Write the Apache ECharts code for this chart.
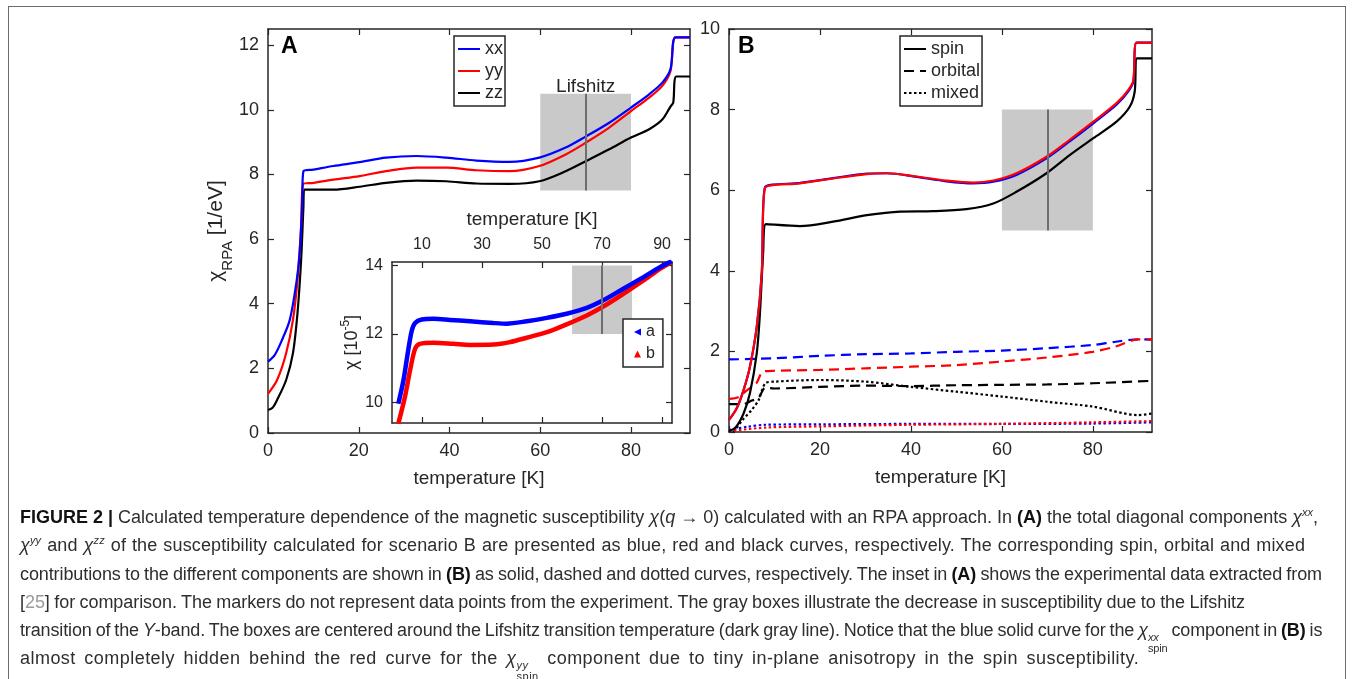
<!DOCTYPE html>
<html>
<head>
<meta charset="utf-8">
<title>FIGURE 2</title>
<script src="https://cdn.jsdelivr.net/npm/echarts@6.0.0/dist/echarts.min.js"></script>
<style>
  html, body { margin: 0; padding: 0; background: #fff; }
  #wrap { position: relative; width: 1354px; height: 679px; overflow: hidden; }
  #chart { position: absolute; left: 0; top: 0; width: 1354px; height: 679px; }
  #frame { position: absolute; left: 8px; top: 6px; width: 1336px; height: 700px; border: 1.5px solid #6b6b6b; border-bottom: none; }
  .cap { position: absolute; left: 20px; white-space: nowrap; font-family: 'Liberation Sans', Arial, sans-serif; font-size: 18px; line-height: 20px; color: #2e2e2e; }
  .cap b { color: #111; }
  .cap sup { font-size: 11px; line-height: 0; font-style: italic; }
  .cap .ref { color: #9a9a9a; }
  .ss { display: inline-flex; flex-direction: column; vertical-align: -5px; line-height: 11px; font-size: 11px; }
  .ss i { font-style: italic; }
</style>
</head>
<body>
<div id="wrap">
  <div id="chart"></div>
  <div id="frame"></div>
  <div class="cap" style="top:507px" data-r="1318"><b>FIGURE 2 |</b> Calculated temperature dependence of the magnetic susceptibility <i>χ</i>(<i>q</i> → 0) calculated with an RPA approach. In <b>(A)</b> the total diagonal components <i>χ</i><sup>xx</sup>,</div>
  <div class="cap" style="top:535px" data-r="1305"><i>χ</i><sup>yy</sup> and <i>χ</i><sup>zz</sup> of the susceptibility calculated for scenario B are presented as blue, red and black curves, respectively. The corresponding spin, orbital and mixed</div>
  <div class="cap" style="top:564px" data-r="1322">contributions to the different components are shown in <b>(B)</b> as solid, dashed and dotted curves, respectively. The inset in <b>(A)</b> shows the experimental data extracted from</div>
  <div class="cap" style="top:592px" data-r="1245">[<span class="ref">25</span>] for comparison. The markers do not represent data points from the experiment. The gray boxes illustrate the decrease in susceptibility due to the Lifshitz</div>
  <div class="cap" style="top:620px" data-r="1322">transition of the <i>Y</i>-band. The boxes are centered around the Lifshitz transition temperature (dark gray line). Notice that the blue solid curve for the <i>χ</i><span class="ss"><i>xx</i><span>spin</span></span> component in <b>(B)</b> is</div>
  <div class="cap" style="top:648px" data-r="1140">almost completely hidden behind the red curve for the <i>χ</i><span class="ss"><i>yy</i><span>spin</span></span> component due to tiny in-plane anisotropy in the spin susceptibility.</div>
</div>
<script>
  // panel A: total susceptibility, [T, chi]
  const totalXX = [[0,2.21],[1.5,2.42],[3,2.85],[4.8,3.5],[6.3,4.7],[7,5.6],[7.5,7.0],[7.8,8.1],[10,8.15],[14.4,8.26],[20.2,8.38],[26,8.52],[32.7,8.57],[39.3,8.52],[45.9,8.43],[53.2,8.39],[59.8,8.52],[65.6,8.83],[70,9.17],[75.2,9.6],[80,10.07],[84,10.48],[86.9,10.84],[88.7,11.26],[89.8,12.24],[93,12.24]];
  const totalYY = [[0,1.21],[2,1.64],[4,2.47],[5.5,3.5],[6.5,4.74],[7.3,6.4],[7.8,7.71],[10,7.74],[14.4,7.84],[20.2,7.95],[26,8.1],[32.7,8.21],[39.3,8.21],[45.9,8.13],[53.2,8.1],[59.8,8.26],[65.6,8.62],[70,8.98],[75.2,9.45],[80,9.96],[84,10.38],[86.9,10.74],[88.7,11.2],[89.8,12.24],[93,12.24]];
  const totalZZ = [[0,0.71],[1,0.78],[2,1.02],[4,1.64],[5.5,2.47],[6.5,3.71],[7.3,5.36],[7.8,6.97],[8,7.53],[14.4,7.53],[20.2,7.62],[26,7.74],[32.7,7.81],[39.3,7.79],[45.9,7.72],[53.2,7.71],[59.8,7.79],[65.6,8.1],[70,8.41],[75.2,8.78],[80,9.14],[84,9.4],[86.9,9.7],[88.7,10.1],[89.3,10.22],[90,11.03],[93,11.03]];

  // panel B: spin / orbital / mixed parts
  const spinXX = [[0,0.3],[1.7,0.59],[3.2,1.04],[4.6,1.62],[6.1,2.61],[7.2,3.94],[7.9,6.07],[15.6,6.18],[22.9,6.3],[30.3,6.41],[34.7,6.42],[41.2,6.33],[47.8,6.22],[53.7,6.17],[58.1,6.21],[63.2,6.38],[69.8,6.79],[74.9,7.21],[80.1,7.66],[85.2,8.12],[87.8,8.45],[88.9,8.7],[89.6,9.66],[93,9.66]];
  const spinYY = [[0,0.3],[1.7,0.59],[3.2,1.04],[4.6,1.62],[6.1,2.61],[7.2,3.94],[7.9,6.05],[15.6,6.17],[22.9,6.29],[30.3,6.4],[34.7,6.42],[41.2,6.34],[47.8,6.24],[53.7,6.19],[58.1,6.24],[63.2,6.42],[69.8,6.83],[74.9,7.25],[80.1,7.7],[85.2,8.16],[87.8,8.49],[88.9,8.73],[89.6,9.66],[93,9.66]];
  const spinZZ = [[0,0.02],[1.5,0.12],[3.2,0.46],[4.6,0.96],[6.1,1.95],[6.8,2.94],[7.5,4.43],[8.1,5.16],[15.6,5.11],[22.9,5.22],[30.3,5.38],[37.6,5.47],[44.9,5.48],[52.2,5.53],[58.1,5.67],[63.2,5.96],[69.8,6.42],[74.9,6.87],[80.1,7.29],[85.2,7.7],[88.1,8.07],[89.2,8.45],[89.7,9.27],[93,9.27]];
  const orbXX = [[0,1.8],[10,1.83],[20,1.89],[30,1.93],[40,1.95],[50,1.99],[60,2.02],[70,2.08],[80,2.16],[85,2.24],[90,2.3],[93,2.29]];
  const orbYY = [[0,0.82],[2,0.86],[4,1.04],[6,1.21],[7.5,1.5],[10,1.52],[20,1.54],[30,1.58],[40,1.62],[50,1.66],[60,1.75],[70,1.85],[80,1.99],[85,2.12],[90,2.3],[93,2.3]];
  const orbZZ = [[0,0.69],[3,0.69],[5,0.78],[6.5,0.85],[8,1.1],[10,1.08],[20,1.12],[30,1.15],[40,1.14],[50,1.16],[60,1.17],[70,1.18],[80,1.21],[93,1.27]];
  const mixXX = [[0,0.05],[4,0.13],[8,0.18],[20,0.19],[40,0.2],[60,0.2],[80,0.21],[93,0.24]];
  const mixYY = [[0,0.02],[8,0.11],[20,0.14],[40,0.18],[60,0.2],[80,0.24],[93,0.27]];
  const mixZZ = [[1,0],[3,0.3],[5,0.55],[6.5,0.79],[8,1.21],[10,1.25],[20,1.29],[30,1.25],[40,1.12],[50,1.0],[60,0.88],[70,0.75],[80,0.63],[90,0.42],[93,0.46]];

  // inset: experiment, chi in 1e-5
  const expA = [[2.1,9.96],[3.8,10.64],[5.4,11.52],[6.6,12.1],[7.7,12.32],[9.9,12.42],[13.8,12.44],[19.3,12.41],[26,12.37],[33.8,12.32],[38.2,12.3],[44.9,12.37],[51.6,12.47],[58.2,12.59],[64.9,12.76],[70.4,12.98],[77.1,13.32],[83.8,13.66],[89.3,13.95],[93.2,14.12]];
  const expB = [[2.1,9.38],[4.3,10.16],[6,10.93],[7.7,11.57],[9.3,11.71],[13.8,11.74],[20.4,11.71],[26,11.68],[33.8,11.69],[39.3,11.76],[44.9,11.89],[51.6,12.05],[58.2,12.28],[64.9,12.54],[70.4,12.8],[77.1,13.17],[83.8,13.56],[89.3,13.9],[93.2,14.1]];

  // Lifshitz boxes: [Tmin, Tmax, chiMin, chiMax], centre line temperature
  const boxA = [60, 80, 7.5, 10.5];
  const boxB = [60, 80, 5, 8];
  const boxInset = [60, 80, 12, 14];
  const lifshitzT = 70;

  // tick labels
  const tTicks = [0, 20, 40, 60, 80];
  const yTicksA = [0, 2, 4, 6, 8, 10, 12];
  const yTicksB = [0, 2, 4, 6, 8, 10];
  const insetTTicks = [10, 30, 50, 70, 90];
  const insetYTicks = [10, 12, 14];

  const FONT = 'Liberation Sans';
  const INK = '#262626';

  function frameAxis(gridIndex, position, min, max, ticks, showLabels, labelSize) {
    return {
      type: 'value', gridIndex: gridIndex, position: position, min: min, max: max,
      axisLine: { show: true, onZero: false, lineStyle: { color: INK, width: 1.5 } },
      axisTick: { show: true, inside: true, length: 6, customValues: ticks, lineStyle: { color: INK, width: 1.2 } },
      axisLabel: { show: showLabels, customValues: ticks, fontSize: labelSize, fontFamily: FONT, color: INK, margin: 9 },
      splitLine: { show: false }
    };
  }

  function curve(name, data, color, xi, yi, width, dash) {
    return {
      name: name, type: 'line', data: data, xAxisIndex: xi, yAxisIndex: yi,
      symbol: 'none', smooth: 0.3, z: 3, silent: true,
      lineStyle: { color: color, width: width, type: dash || 'solid' },
      itemStyle: { color: color }
    };
  }

  function grayBox(box, xi, yi, label) {
    return {
      type: 'line', data: [], xAxisIndex: xi, yAxisIndex: yi, z: 1, silent: true,
      markArea: {
        silent: true,
        itemStyle: { color: '#c9c9c9', opacity: 1 },
        label: label ? { show: true, position: 'top', distance: -3, formatter: label, fontSize: 19, fontFamily: FONT, color: INK } : { show: false },
        data: [[{ coord: [box[0], box[2]] }, { coord: [box[1], box[3]] }]]
      },
      markLine: {
        silent: true, symbol: ['none', 'none'],
        label: { show: false },
        lineStyle: { color: '#6e6e6e', width: 2, type: 'solid' },
        data: [[{ coord: [lifshitzT, box[2]] }, { coord: [lifshitzT, box[3]] }]]
      }
    };
  }

  const nameStyle = { fontSize: 19, fontFamily: FONT, color: INK };

  const xAxes = [
    Object.assign(frameAxis(0, 'bottom', 0, 93, tTicks, true, 18), { name: 'temperature [K]', nameLocation: 'middle', nameGap: 36, nameTextStyle: nameStyle }),
    frameAxis(0, 'top', 0, 93, tTicks, false, 18),
    Object.assign(frameAxis(1, 'bottom', 0, 93, tTicks, true, 18), { name: 'temperature [K]', nameLocation: 'middle', nameGap: 36, nameTextStyle: nameStyle }),
    frameAxis(1, 'top', 0, 93, tTicks, false, 18),
    frameAxis(2, 'bottom', 0, 93.3, insetTTicks, false, 16),
    Object.assign(frameAxis(2, 'top', 0, 93.3, insetTTicks, true, 16), { name: 'temperature [K]', nameLocation: 'middle', nameGap: 33, nameTextStyle: nameStyle })
  ];

  const yAxes = [
    Object.assign(frameAxis(0, 'left', 0, 12.5, yTicksA, true, 18), {
      name: '{c|χ}{s|RPA}{c| [1/eV]}', nameLocation: 'middle', nameGap: 23,
      nameTextStyle: { color: INK, rich: {
        c: { fontSize: 21, fontFamily: FONT, color: INK, lineHeight: 24, verticalAlign: 'top' },
        s: { fontSize: 15, fontFamily: FONT, color: INK, lineHeight: 15, verticalAlign: 'top', padding: [14, 0, 0, 0] }
      } }
    }),
    frameAxis(0, 'right', 0, 12.5, yTicksA, false, 18),
    frameAxis(1, 'left', 0, 10, yTicksB, true, 18),
    frameAxis(1, 'right', 0, 10, yTicksB, false, 18),
    Object.assign(frameAxis(2, 'left', 9.4, 14.1, insetYTicks, true, 16), {
      name: '{c|χ [10}{p|-5}{c|]}', nameLocation: 'middle', nameGap: 21,
      nameTextStyle: { color: INK, rich: {
        c: { fontSize: 18, fontFamily: FONT, color: INK, lineHeight: 22, verticalAlign: 'top', padding: [4, 0, 0, 0] },
        p: { fontSize: 12, fontFamily: FONT, color: INK, lineHeight: 12, verticalAlign: 'top' }
      } }
    }),
    frameAxis(2, 'right', 9.4, 14.1, insetYTicks, false, 16)
  ];

  const legendText = { fontSize: 18, fontFamily: FONT, color: INK };
  // hide the marker that ECharts puts in the middle of line keys
  const noMarker = { opacity: 0, borderWidth: 0 };

  const chart = echarts.init(document.getElementById('chart'));
  chart.setOption({
    animation: false,
    backgroundColor: '#fff',
    grid: [
      { left: 268, top: 29, width: 422, height: 404 },
      { left: 729, top: 29, width: 423, height: 403 },
      { left: 392, top: 262, width: 280, height: 161, show: true, backgroundColor: '#fff', borderWidth: 0 }
    ],
    xAxis: xAxes,
    yAxis: yAxes,
    legend: [
      {
        data: ['xx', 'yy', 'zz'], left: 454, top: 36, orient: 'vertical',
        itemWidth: 22, itemHeight: 12, itemGap: 4, padding: [4, 2, 4, 3],
        borderColor: INK, borderWidth: 1.5, backgroundColor: '#fff',
        itemStyle: noMarker, textStyle: legendText, selectedMode: false
      },
      {
        data: ['spin', 'orbital', 'mixed'], left: 900, top: 36, orient: 'vertical',
        itemWidth: 22, itemHeight: 12, itemGap: 4, padding: [4, 2, 4, 3],
        borderColor: INK, borderWidth: 1.5, backgroundColor: '#fff',
        itemStyle: noMarker, textStyle: legendText, selectedMode: false
      },
      {
        data: [{ name: 'a', icon: 'path://M10,0L10,10L0,5Z' }, { name: 'b', icon: 'triangle' }],
        left: 623, top: 319, orient: 'vertical',
        itemWidth: 7, itemHeight: 7, itemGap: 6, padding: [5, 8, 5, 11],
        borderColor: INK, borderWidth: 1.5, backgroundColor: '#fff',
        textStyle: { fontSize: 16, fontFamily: FONT, color: INK }, selectedMode: false
      }
    ],
    graphic: [
      { type: 'text', left: 281, top: 35, style: { text: 'A', font: 'bold 23px "Liberation Sans"', fill: '#000' } },
      { type: 'text', left: 738, top: 35, style: { text: 'B', font: 'bold 23px "Liberation Sans"', fill: '#000' } }
    ],
    series: [
      grayBox(boxA, 0, 0, 'Lifshitz'),
      curve('zz', totalZZ, '#000000', 0, 0, 2.2),
      curve('yy', totalYY, '#ff0000', 0, 0, 2.2),
      curve('xx', totalXX, '#0000ff', 0, 0, 2.2),

      grayBox(boxB, 2, 2, null),
      curve('mixed zz', mixZZ, '#000000', 2, 2, 2.2, [2.5, 2.5]),
      curve('mixed xx', mixXX, '#0000ff', 2, 2, 2.2, [2.5, 2.5]),
      curve('mixed yy', mixYY, '#ff0000', 2, 2, 2.2, [2.5, 2.5]),
      curve('orbital zz', orbZZ, '#000000', 2, 2, 2.2, [10, 6]),
      curve('orbital xx', orbXX, '#0000ff', 2, 2, 2.2, [10, 6]),
      curve('orbital yy', orbYY, '#ff0000', 2, 2, 2.2, [10, 6]),
      curve('spin zz', spinZZ, '#000000', 2, 2, 2.2),
      curve('spin xx', spinXX, '#0000ff', 2, 2, 2.2),
      curve('spin yy', spinYY, '#ff0000', 2, 2, 2.2),
      // legend keys for panel B
      curve('spin', [], '#000000', 2, 2, 2.2),
      curve('orbital', [], '#000000', 2, 2, 2.2, [10, 6]),
      curve('mixed', [], '#000000', 2, 2, 2.2, [2.5, 2.5]),

      grayBox(boxInset, 4, 4, null),
      curve('b', expB, '#ff0000', 4, 4, 4.5),
      curve('a', expA, '#0000ff', 4, 4, 4.5)
    ]
  });

  // fit each caption line to the width it has in the original
  document.querySelectorAll('.cap').forEach(function (el) {
    const target = +el.dataset.r - 20;
    const w = el.getBoundingClientRect().width;
    const txt = el.textContent;
    const n = (txt.match(/ /g) || []).length;
    const extra = target - w;
    el.style.letterSpacing = (extra * 0.5 / txt.length) + 'px';
    if (n) el.style.wordSpacing = (extra * 0.5 / n) + 'px';
  });
</script>
</body>
</html>
